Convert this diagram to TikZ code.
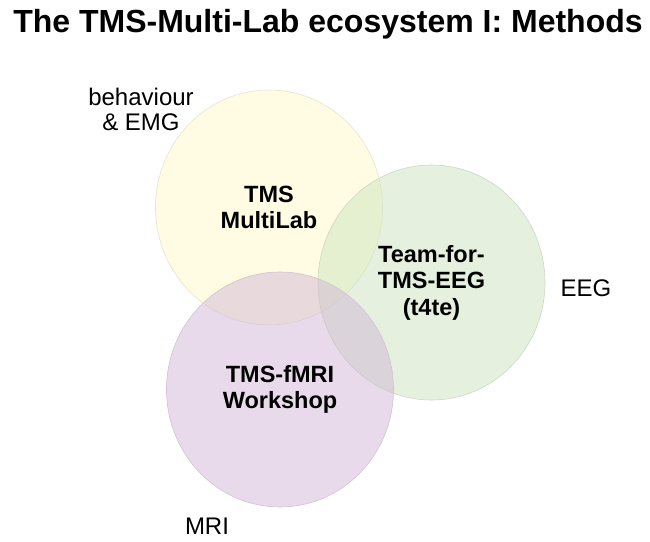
\documentclass[tikz,border=0pt]{standalone}
\usepackage{fontspec}
\setmainfont{Liberation Sans}
\usetikzlibrary{shapes.geometric,positioning}

\definecolor{emgyellow}{RGB}{255,250,200}
\definecolor{eeggreen}{RGB}{203,228,190}
\definecolor{mripurple}{RGB}{210,182,214}

\begin{document}
\begin{tikzpicture}[
    x=1pt, y=-1pt,
    venn/.style={ellipse, minimum width=227pt, minimum height=235pt, inner sep=0pt,
        fill opacity=0.5, text opacity=1, line width=0.6pt, align=center,
        font=\fontsize{23.5}{26.5}\selectfont\bfseries},
    field/.style={align=center, font=\fontsize{24}{25}\selectfont},
]
\useasboundingbox (0,0) rectangle (650,541);

% Title
\node[font=\fontsize{32}{36}\selectfont\bfseries] (title) at (328,24) {The TMS-Multi-Lab ecosystem I: Methods};

% Three overlapping groups
\node[venn, fill=emgyellow, draw=emgyellow!80!black!50] (multilab) at (269,207.5) {TMS\\MultiLab};
\node[venn, fill=eeggreen, draw=eeggreen!80!black!55] (t4te) at (431.5,282.5) {Team-for-\\TMS-EEG\\(t4te)};
\node[venn, fill=mripurple, draw=mripurple!80!black!55] (fmri) at (280,389.5) {TMS-fMRI\\Workshop};

% Methods
\node[field] (behav) at (141,109) {behaviour\\\& EMG};
\node[field] (eeg) at (586,288) {EEG};
\node[field] (mri) at (207,526) {MRI};

\end{tikzpicture}
\end{document}
